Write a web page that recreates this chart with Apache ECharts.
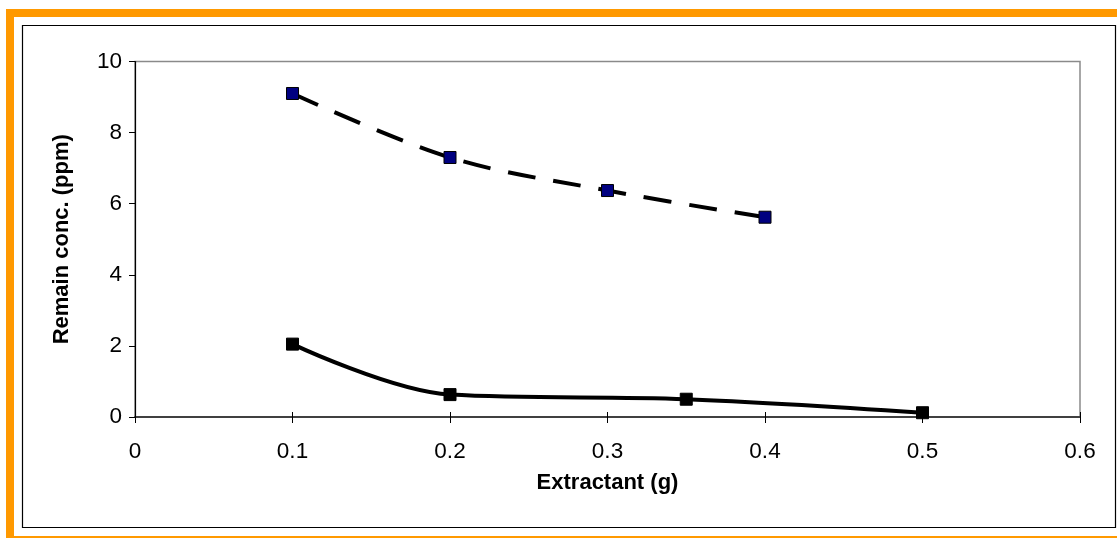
<!DOCTYPE html>
<html>
<head>
<meta charset="utf-8">
<script src="https://cdn.jsdelivr.net/npm/echarts@6/dist/echarts.min.js"></script>
<style>
html,body{margin:0;padding:0;background:#fff;}
#c{width:1117px;height:538px;}
</style>
</head>
<body>
<div id="c"></div>
<script>
// Data
const xTicks = [0, 0.1, 0.2, 0.3, 0.4, 0.5, 0.6];
const yTicks = [0, 2, 4, 6, 8, 10];
const seriesA_x = [0.1, 0.2, 0.3, 0.4];
const seriesA_y = [9.1, 7.3, 6.37, 5.62];
const seriesB_x = [0.1, 0.2, 0.35, 0.5];
const seriesB_y = [2.05, 0.63, 0.5, 0.12];
const xTitle = 'Extractant (g)';
const yTitle = 'Remain conc. (ppm)';

const zip = (xs, ys) => xs.map((x, i) => [x, ys[i]]);
const FONT = '"Liberation Sans", Arial, sans-serif';

const chart = echarts.init(document.getElementById('c'), null, {renderer: 'canvas'});
chart.setOption({
  animation: false,
  backgroundColor: '#fff',
  grid: {left: 135, right: 37, top: 61.5, bottom: 121, show: true, borderColor: '#8a8a8a', borderWidth: 1.5, backgroundColor: 'transparent'},
  graphic: [
    {type: 'rect', shape: {x: 6, y: 9, width: 1111, height: 8}, style: {fill: '#FF9900'}, silent: true},
    {type: 'rect', shape: {x: 6, y: 9, width: 8, height: 529}, style: {fill: '#FF9900'}, silent: true},
    {type: 'rect', shape: {x: 6, y: 536, width: 1111, height: 2}, style: {fill: '#FF9900'}, silent: true},
    {type: 'rect', shape: {x: 22.5, y: 25.5, width: 1093, height: 502}, style: {fill: 'none', stroke: '#000', lineWidth: 1.2}, silent: true, z: -1}
  ],
  xAxis: [{
    type: 'value', min: xTicks[0], max: xTicks[xTicks.length - 1], interval: 0.1,
    name: xTitle, nameLocation: 'middle', nameGap: 55,
    nameTextStyle: {fontFamily: FONT, fontWeight: 'bold', fontSize: 22, color: '#000'},
    axisLine: {show: true, onZero: false, lineStyle: {color: '#404040', width: 2}},
    axisTick: {show: true, length: 6, lineStyle: {color: '#000', width: 1}},
    axisLabel: {fontFamily: FONT, fontSize: 22.5, color: '#000', margin: 23,
      formatter: v => { const r = Math.round(v * 10) / 10; return r === 0 ? '0' : String(r); }},
    splitLine: {show: false}
  }, {
    type: 'value', min: xTicks[0], max: xTicks[xTicks.length - 1], interval: 0.1, position: 'bottom',
    axisLine: {show: false}, axisTick: {show: true, inside: true, length: 5, lineStyle: {color: '#000', width: 1}},
    axisLabel: {show: false}, splitLine: {show: false}
  }],
  yAxis: {
    type: 'value', min: yTicks[0], max: yTicks[yTicks.length - 1], interval: 2,
    name: yTitle, nameLocation: 'middle', nameGap: 62,
    nameTextStyle: {fontFamily: FONT, fontWeight: 'bold', fontSize: 22, color: '#000'},
    axisLine: {show: true, onZero: false, lineStyle: {color: '#000', width: 1.2}},
    axisTick: {show: true, length: 6, lineStyle: {color: '#000', width: 1}},
    axisLabel: {fontFamily: FONT, fontSize: 22.5, color: '#000', margin: 13},
    splitLine: {show: false}
  },
  series: [{
    type: 'line', data: zip(seriesA_x, seriesA_y), smooth: 0.35,
    symbol: 'rect', symbolSize: 12,
    lineStyle: {color: '#000', width: 4, type: [28, 18]},
    itemStyle: {color: '#000080', borderColor: '#000', borderWidth: 1},
    z: 3
  }, {
    type: 'line', data: zip(seriesB_x, seriesB_y), smooth: 0.35,
    symbol: 'rect', symbolSize: 12,
    lineStyle: {color: '#000', width: 4},
    itemStyle: {color: '#000', borderColor: '#000', borderWidth: 1},
    z: 3
  }]
});
</script>
</body>
</html>
